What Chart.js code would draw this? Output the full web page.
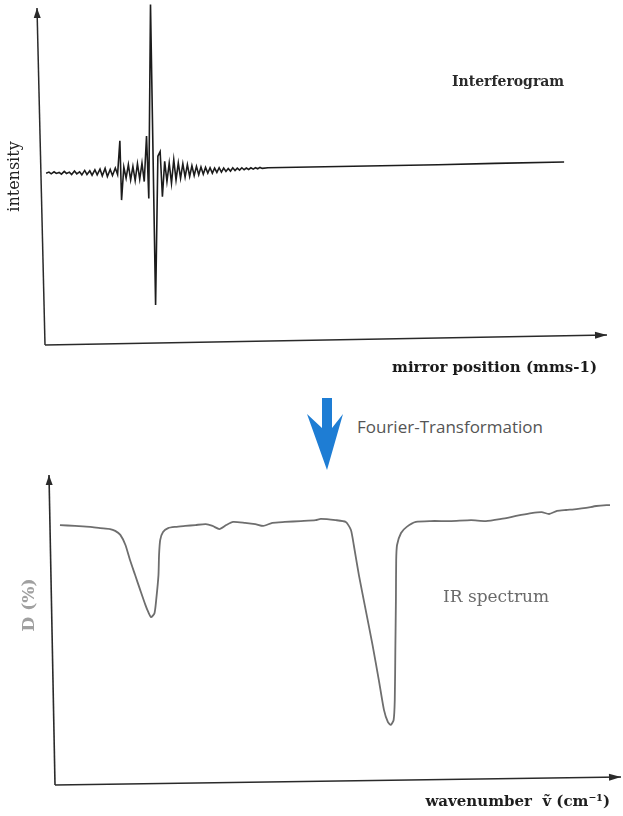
<!DOCTYPE html>
<html>
<head>
<meta charset="utf-8">
<script src="https://cdn.jsdelivr.net/npm/chart.js@4/dist/chart.umd.min.js"></script>
<style>
html,body{margin:0;padding:0;background:#fff;}
#page{position:relative;width:623px;height:816px;overflow:hidden;background:#fff;}
#topChart{position:absolute;left:0;top:0;}
#bottomChart{position:absolute;left:0;top:460px;}
#ftArrow{position:absolute;left:305px;top:396px;}
#ftText{position:absolute;left:357px;top:415px;font-family:"Open Sans",sans-serif;font-size:17px;line-height:24px;color:#555;white-space:nowrap;}
</style>
</head>
<body>
<div id="page">
  <canvas id="topChart" width="623" height="392"></canvas>
  <svg id="ftArrow" width="40" height="76" viewBox="0 0 40 76">
    <polygon points="17,2 27,2 27,32 38,18 22,74 2,18 17,32" fill="#1e7dd4"/>
  </svg>
  <div id="ftText">Fourier-Transformation</div>
  <canvas id="bottomChart" width="623" height="356"></canvas>
</div>
<script>
// ---------- DATA ----------
// Interferogram: mirror position (arbitrary units) vs intensity (arbitrary units)
const interferogramX = [
  0.9,1.4,1.8,2.3,2.7,3.2,3.6,4.1,4.5,5.0,
  5.4,5.9,6.3,6.8,7.2,7.7,8.1,8.6,9.0,9.5,
  9.9,10.4,10.8,11.3,11.7,12.2,12.6,13.1,13.5,13.9,
  14.2,14.6,15.0,15.4,15.8,16.2,16.6,17.0,17.4,17.8,
  18.2,18.6,19.0,19.3,20.2,20.6,21.0,21.4,21.8,22.2,
  22.6,23.0,23.4,23.8,24.2,24.6,25.0,25.4,25.8,26.2,
  26.6,27.0,27.4,27.8,28.2,28.6,29.0,29.4,29.8,30.2,
  30.6,31.0,31.4,31.8,32.2,32.6,33.0,33.4,33.8,34.2,
  34.6,35.0,35.4,35.8,36.2,36.6,37.0,37.4,37.8,38.2,
  38.6,39.0,40.0,50.0,60.0,70.0,80.0,92.2
];
const interferogramY = [
  51.0,51.3,50.8,51.4,50.9,51.2,50.7,51.5,50.9,51.3,
  50.6,51.6,50.8,51.4,50.5,51.8,50.6,51.7,50.4,52.0,
  50.5,52.2,50.2,52.4,50.0,52.1,50.3,52.5,50.6,60.6,
  43.0,52.8,49.5,53.5,49.0,53.0,48.8,53.8,49.2,54.0,
  48.5,62.0,43.5,101.0,11.9,56.0,57.4,44.0,54.5,48.5,
  54.0,48.0,55.0,49.0,54.0,49.5,53.8,49.8,53.5,50.0,
  53.2,50.3,53.0,50.5,52.8,50.7,52.7,51.0,52.6,51.0,
  52.5,51.2,52.6,51.3,52.5,51.5,52.4,51.6,52.6,51.8,
  52.5,51.9,52.6,52.0,52.5,52.1,52.6,52.2,52.6,52.3,
  52.7,52.4,52.6,52.9,53.2,53.5,53.9,54.3
];

// IR spectrum: wavenumber (arbitrary units) vs D (%)
const spectrumX = [
  1.4,4.05,6.7,8.45,10.2,11.1,12.0,12.9,13.7,14.6,
  15.5,16.4,16.9,17.4,18.0,18.3,18.7,18.8,19.0,19.5,
  20.4,21.7,23.4,25.2,27.0,28.2,29.4,30.6,31.8,33.9,
  35.7,37.1,38.7,40.9,43.7,46.3,47.2,49.8,51.6,52.5,
  53.0,53.9,55.1,56.3,57.4,58.3,59.0,59.5,60.0,60.2,
  60.3,60.4,60.45,60.6,61.3,62.3,63.9,66.5,70.1,73.6,
  76.2,78.9,80.6,82.4,84.2,86.0,87.3,88.7,90.3,92.1,
  93.8,95.6,97.4,98.0
];
const spectrumY = [
  83.7,83.4,83.1,82.7,82.4,81.8,80.5,77.2,72.3,67.4,
  62.5,57.7,55.4,53.7,55.0,59.3,67.4,73.9,78.8,81.4,
  82.7,83.1,83.4,83.7,84.0,83.4,82.4,83.7,84.7,84.4,
  84.0,83.4,84.4,84.7,85.0,85.3,85.7,85.3,84.7,82.1,
  77.2,67.4,56.0,44.6,33.2,23.5,19.5,18.6,20.2,26.7,
  43.0,59.3,72.3,77.2,81.1,83.1,84.7,85.0,85.0,85.3,
  85.0,85.7,86.3,87.0,87.6,87.9,87.3,88.3,88.6,88.9,
  89.3,89.9,90.2,90.2
];

// Texts
const topXTitle = 'mirror position (mms-1)';
const topYTitle = 'intensity';
const topLabel = 'Interferogram';
const bottomXTitle = 'wavenumber  ṽ (cm⁻¹)';
const bottomYTitle = 'D (%)';
const bottomLabel = 'IR spectrum';

// ---------- PLUGIN: arrowed axes + annotations ----------
function drawArrowLine(ctx, from, to, head, half) {
  ctx.beginPath();
  ctx.moveTo(from[0], from[1]);
  ctx.lineTo(to[0], to[1]);
  ctx.stroke();
  const ang = Math.atan2(to[1] - from[1], to[0] - from[0]);
  const bx = to[0] - head * Math.cos(ang), by = to[1] - head * Math.sin(ang);
  ctx.beginPath();
  ctx.moveTo(to[0], to[1]);
  ctx.lineTo(bx + half * Math.sin(ang), by - half * Math.cos(ang));
  ctx.lineTo(bx - half * Math.sin(ang), by + half * Math.cos(ang));
  ctx.closePath();
  ctx.fill();
}
const framePlugin = {
  id: 'frame',
  beforeDatasetsDraw(chart, args, o) {
    const {ctx, chartArea: a} = chart;
    ctx.save();
    ctx.strokeStyle = o.color; ctx.fillStyle = o.color; ctx.lineWidth = o.width;
    const yBottom = [a.left + o.y.bottom[0], a.bottom + o.y.bottom[1]];
    const yTip = [a.left + o.y.tip[0], a.top + o.y.tip[1]];
    const xLeft = [a.left + o.x.left[0], a.bottom + o.x.left[1]];
    const xTip = [a.right + o.x.tip[0], a.bottom + o.x.tip[1]];
    drawArrowLine(ctx, yBottom, yTip, 10, 3.5);
    drawArrowLine(ctx, xLeft, xTip, 12, 3.5);
    (o.labels || []).forEach(l => {
      ctx.save();
      ctx.font = l.font;
      ctx.fillStyle = l.color;
      ctx.textAlign = l.align || 'left';
      ctx.textBaseline = 'middle';
      ctx.translate(l.x, l.y);
      if (l.rotate) ctx.rotate(l.rotate);
      ctx.fillText(l.text, 0, 0);
      ctx.restore();
    });
    ctx.restore();
  }
};

function pts(xs, ys) { return xs.map((x, i) => ({x: x, y: ys[i]})); }

const hiddenGrid = {display: false, drawTicks: false};

// ---------- TOP CHART: Interferogram ----------
new Chart(document.getElementById('topChart'), {
  type: 'line',
  data: {
    datasets: [{
      data: pts(interferogramX, interferogramY),
      borderColor: '#1c1c1c',
      borderWidth: 1.6,
      pointRadius: 0,
      tension: 0,
      clip: false
    }]
  },
  options: {
    responsive: false,
    animation: false,
    layout: {padding: {left: 2, top: 8, right: 26, bottom: 12}},
    plugins: {
      legend: {display: false},
      tooltip: {enabled: false},
      frame: {
        color: '#2a2a2a', width: 1.5,
        y: {tip: [-4, 0], bottom: [4, 0]},
        x: {left: [4, 0], tip: [10, -10]},
        labels: [
          {text: topLabel, x: 452, y: 82, font: 'bold 14px "DejaVu Serif"', color: '#2a2a2a'}
        ]
      }
    },
    scales: {
      x: {
        type: 'linear', min: 0, max: 98,
        ticks: {display: false}, grid: hiddenGrid, border: {display: false},
        title: {display: true, text: topXTitle, align: 'end', color: '#1a1a1a',
          font: {family: 'DejaVu Serif', size: 15, weight: 'bold'},
          padding: {top: 14, bottom: 3}}
      },
      y: {
        type: 'linear', min: 0, max: 100,
        ticks: {display: false}, grid: hiddenGrid, border: {display: false},
        title: {display: true, text: topYTitle, align: 'center', color: '#222',
          font: {family: 'DejaVu Serif', size: 16},
          padding: {top: 3.4, bottom: 16.4}}
      }
    }
  },
  plugins: [framePlugin]
});

// ---------- BOTTOM CHART: IR spectrum ----------
new Chart(document.getElementById('bottomChart'), {
  type: 'line',
  data: {
    datasets: [{
      data: pts(spectrumX, spectrumY),
      borderColor: '#6e6e6e',
      borderWidth: 1.8,
      pointRadius: 0,
      tension: 0.2,
      clip: false
    }]
  },
  options: {
    responsive: false,
    animation: false,
    layout: {padding: {left: 52, top: 15, right: 13, bottom: 3}},
    plugins: {
      legend: {display: false},
      tooltip: {enabled: false},
      frame: {
        color: '#2a2a2a', width: 1.6,
        y: {tip: [-3, 0], bottom: [3, 3]},
        x: {left: [3, 3], tip: [11, -5]},
        labels: [
          {text: bottomLabel, x: 443, y: 138, font: '17px "DejaVu Serif"', color: '#6a6a6a'},
          {text: bottomYTitle, x: 30, y: 145, font: 'bold 17px "DejaVu Serif"', color: '#a0a0a0', align: 'center', rotate: -Math.PI / 2}
        ]
      }
    },
    scales: {
      x: {
        type: 'linear', min: 0, max: 98,
        ticks: {display: false}, grid: hiddenGrid, border: {display: false},
        title: {display: true, text: bottomXTitle, align: 'end', color: '#1e1e1e',
          font: {family: 'DejaVu Serif', size: 15, weight: 'bold'},
          padding: {top: 11, bottom: 2}}
      },
      y: {
        type: 'linear', min: 0, max: 100, display: false
      }
    }
  },
  plugins: [framePlugin]
});
</script>
</body>
</html>
